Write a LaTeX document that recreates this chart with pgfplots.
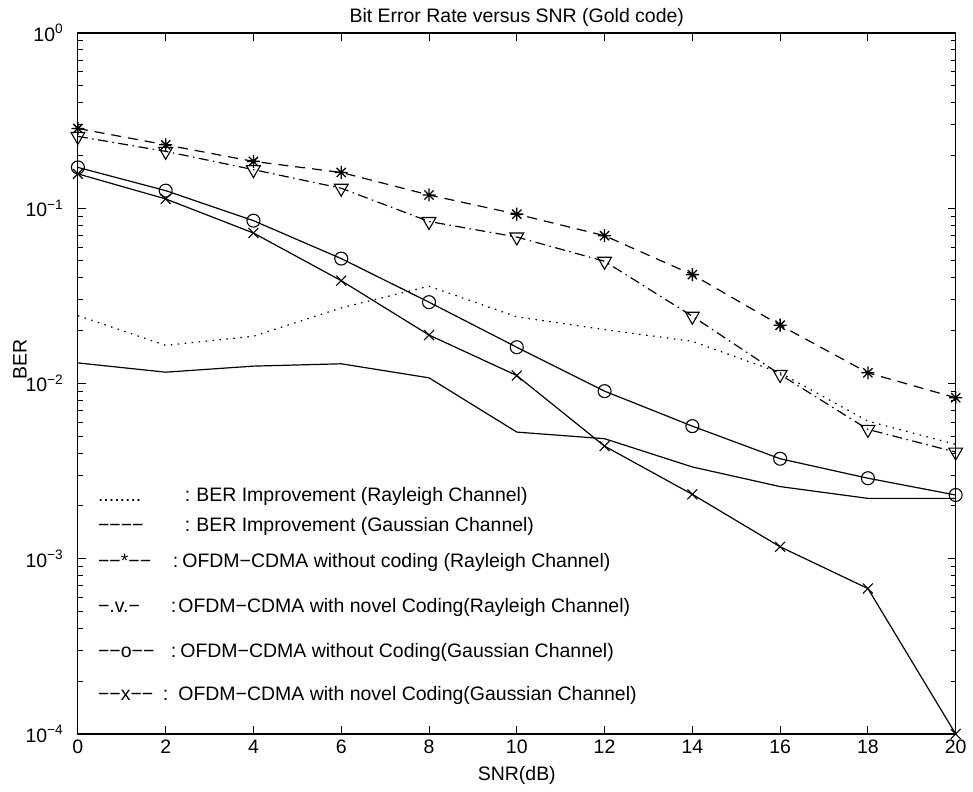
\documentclass[border=0pt]{standalone}
\usepackage{pgfplots}
\pgfplotsset{compat=1.18}
\usepackage{fontspec}
\setmainfont{Liberation Sans}

\pgfdeclareplotmark{mstar}{%
 \pgfpathmoveto{\pgfqpoint{-\pgfplotmarksize}{0pt}}\pgfpathlineto{\pgfqpoint{\pgfplotmarksize}{0pt}}%
 \pgfpathmoveto{\pgfqpoint{0pt}{-\pgfplotmarksize}}\pgfpathlineto{\pgfqpoint{0pt}{\pgfplotmarksize}}%
 \pgfpathmoveto{\pgfqpoint{-.707\pgfplotmarksize}{-.707\pgfplotmarksize}}\pgfpathlineto{\pgfqpoint{.707\pgfplotmarksize}{.707\pgfplotmarksize}}%
 \pgfpathmoveto{\pgfqpoint{-.707\pgfplotmarksize}{.707\pgfplotmarksize}}\pgfpathlineto{\pgfqpoint{.707\pgfplotmarksize}{-.707\pgfplotmarksize}}%
 \pgfusepathqstroke}

\pgfplotstableread{
x y
0 0.285
2 0.230
4 0.185
6 0.160
8 0.119
10 0.0925
12 0.0697
14 0.0418
16 0.0215
18 0.0115
20 0.00829
}\rayunc
\pgfplotstableread{
x y
0 0.257
2 0.211
4 0.166
6 0.130
8 0.084
10 0.0685
12 0.0498
14 0.0242
16 0.01125
18 0.00547
20 0.00406
}\raycod
\pgfplotstableread{
x y
0 0.171
2 0.126
4 0.0849
6 0.0516
8 0.0291
10 0.0161
12 0.00904
14 0.00571
16 0.00372
18 0.00288
20 0.00231
}\gauunc
\pgfplotstableread{
x y
0 0.157
2 0.113
4 0.0722
6 0.0386
8 0.0189
10 0.0111
12 0.00439
14 0.00233
16 0.00117
18 0.000676
20 0.0001
}\gaucod
\pgfplotstableread{
x y
0 0.0131
2 0.0116
4 0.01256
6 0.01295
8 0.01077
10 0.00528
12 0.00484
14 0.00334
16 0.00258
18 0.00221
20 0.00221
}\gauimp
\pgfplotstableread{
x y
0 0.0244
2 0.0165
4 0.0186
6 0.027
8 0.0359
10 0.0240
12 0.0203
14 0.0174
16 0.0115
18 0.0061
20 0.00449
}\rayimp

\begin{document}
\fontsize{19.5}{23}\selectfont
\begin{tikzpicture}
\begin{axis}[
 scale only axis, width=879pt, height=702pt,
 xmin=0, xmax=20, ymode=log, ymin=1e-4, ymax=1,
 xtick={0,2,...,20},
 ytick={1e-4,1e-3,1e-2,1e-1,1},
 yticklabels={10\textsuperscript{−4},10\textsuperscript{−3},10\textsuperscript{−2},10\textsuperscript{−1},10\textsuperscript{0}},
 minor ytick={2e-4,3e-4,4e-4,5e-4,6e-4,7e-4,8e-4,9e-4,2e-3,3e-3,4e-3,5e-3,6e-3,7e-3,8e-3,9e-3,2e-2,3e-2,4e-2,5e-2,6e-2,7e-2,8e-2,9e-2,0.2,0.3,0.4,0.5,0.6,0.7,0.8,0.9},
 tick align=inside,
 xtick pos=both, ytick pos=both,
 major tick length=8pt, minor tick length=5pt,
 every tick/.style={black, line width=1pt},
 axis line style={line width=1.2pt},
 xticklabel style={/pgf/number format/assume math mode=true, font=\fontsize{19.5}{23}\selectfont, yshift=1pt},
 yticklabel style={font=\fontsize{19.5}{23}\selectfont, xshift=-8pt},
 every axis title shift=0pt,
 title={Bit Error Rate versus SNR (Gold code)},
 title style={at={(axis description cs:0.5,1.0228)}, anchor=center, font=\fontsize{19.5}{23}\selectfont},
 xlabel={SNR(dB)},
 xlabel style={at={(axis description cs:0.5,-0.0598)}, anchor=center, font=\fontsize{19.5}{23}\selectfont},
 ylabel={BER},
 ylabel style={at={(axis description cs:-0.066,0.534)}, anchor=center, font=\fontsize{19.5}{23}\selectfont},
 clip=false,
 every axis plot/.append style={black, line width=1.2pt},
]
\addplot[dash pattern=on 1.5pt off 5.5pt] table[x=x,y=y] {\rayimp};
\addplot[solid] table[x=x,y=y] {\gauimp};
\addplot[dash pattern=on 10pt off 7pt, mark=mstar, mark size=6.5pt, mark options={solid, line width=1.3pt}] table[x=x,y=y] {\rayunc};
\addplot[dash pattern=on 10pt off 4.5pt on 1.5pt off 4.5pt, mark=triangle, mark size=8pt, mark options={solid, rotate=180, line width=1.1pt}] table[x=x,y=y] {\raycod};
\addplot[solid, mark=o, mark size=6.5pt, mark options={solid, line width=1.1pt}] table[x=x,y=y] {\gauunc};
\addplot[solid, mark=x, mark size=7pt, mark options={solid, line width=1.1pt}] table[x=x,y=y] {\gaucod};

\node[anchor=west, inner sep=0pt] at (axis cs:0.455,0.00227) {\makebox[87pt][l]{........}:\hspace{6pt}BER Improvement (Rayleigh Channel)};
\node[anchor=west, inner sep=0pt] at (axis cs:0.455,0.00153) {\makebox[87pt][l]{−−−−}:\hspace{6pt}BER Improvement (Gaussian Channel)};
\node[anchor=west, inner sep=0pt] at (axis cs:0.455,0.000955) {\makebox[75pt][l]{−−*−−}:\hspace{4pt}OFDM−CDMA without coding (Rayleigh Channel)};
\node[anchor=west, inner sep=0pt] at (axis cs:0.455,0.000530) {\makebox[73pt][l]{−.v.−}:\hspace{2pt}OFDM−CDMA with novel Coding(Rayleigh Channel)};
\node[anchor=west, inner sep=0pt] at (axis cs:0.455,0.000293) {\makebox[73pt][l]{−−o−−}:\hspace{4pt}OFDM−CDMA without Coding(Gaussian Channel)};
\node[anchor=west, inner sep=0pt] at (axis cs:0.455,0.000165) {\makebox[65pt][l]{−−x−−}:\hspace{10pt}OFDM−CDMA with novel Coding(Gaussian Channel)};
\path ([xshift=-78pt,yshift=-57pt]rel axis cs:0,0) rectangle ([xshift=16pt,yshift=33pt]rel axis cs:1,1);
\end{axis}
\end{tikzpicture}
\end{document}
